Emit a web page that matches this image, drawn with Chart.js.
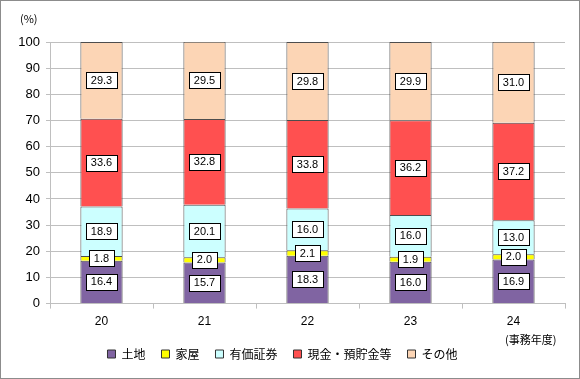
<!DOCTYPE html>
<html>
<head>
<meta charset="utf-8">
<script src="https://cdn.jsdelivr.net/npm/chart.js@4"></script>
<style>
  html, body { margin: 0; padding: 0; background: #fff; }
  #wrap { width: 580px; height: 379px; position: relative; }
</style>
</head>
<body>
<div id="wrap"><canvas id="chart" width="580" height="379"></canvas></div>
<script>
// 事務年度
var years = ['20', '21', '22', '23', '24'];
// 構成比 (%)
var tochi   = [16.4, 15.7, 18.3, 16.0, 16.9];
var kaoku   = [1.8, 2.0, 2.1, 1.9, 2.0];
var yuka    = [18.9, 20.1, 16.0, 16.0, 13.0];
var genkin  = [33.6, 32.8, 33.8, 36.2, 37.2];
var sonota  = [29.3, 29.5, 29.8, 29.9, 31.0];
var yTicks  = [0, 10, 20, 30, 40, 50, 60, 70, 80, 90, 100];

var jpFont = '"Noto Sans CJK JP", "DejaVu Sans", sans-serif';
var numFont = '"Liberation Sans", Arial, sans-serif';

// white boxed value labels
var boxLabels = {
    id: 'boxLabels',
    afterDatasetsDraw: function(chart) {
        var c = chart.ctx;
        c.save();
        c.font = '11px ' + numFont;
        c.textAlign = 'center';
        c.textBaseline = 'middle';
        chart.data.datasets.forEach(function(ds, i) {
            var meta = chart.getDatasetMeta(i);
            meta.data.forEach(function(bar, j) {
                var txt = ds.data[j].toFixed(1);
                var cy = (bar.y + bar.base) / 2;
                var w = Math.round(c.measureText(txt).width) + 10;
                var h = 16;
                var x0 = Math.round(bar.x - w / 2) + 0.5;
                var y0 = Math.round(cy - h / 2) + 0.5;
                c.fillStyle = '#fff';
                c.fillRect(x0, y0, w, h);
                c.strokeStyle = '#000';
                c.lineWidth = 1;
                c.strokeRect(x0, y0, w, h);
                c.fillStyle = '#000';
                c.fillText(txt, bar.x, cy + 0.5);
            });
        });
        c.restore();
    }
};

var frame = {
    id: 'frame',
    afterDraw: function(chart) {
        var c = chart.ctx;
        c.save();
        c.strokeStyle = '#8c8c8c';
        c.lineWidth = 1;
        c.strokeRect(0.5, 0.5, chart.width - 1, chart.height - 1);
        c.fillStyle = '#000';
        c.font = '11px ' + jpFont;
        c.textBaseline = 'middle';
        c.textAlign = 'left';
        c.fillText('(%)', 20, 19);
        c.fillText('(事務年度)', 505, 340);
        c.restore();
    }
};

var ctx = document.getElementById('chart').getContext('2d');
var chart = new Chart(ctx, {
    type: 'bar',
    data: {
        labels: years,
        datasets: [
            { label: '土地', data: tochi, backgroundColor: '#8064a2', borderColor: '#4d4d4d', borderWidth: 1 },
            { label: '家屋', data: kaoku, backgroundColor: '#ffff00', borderColor: '#4d4d4d', borderWidth: 1 },
            { label: '有価証券', data: yuka, backgroundColor: '#ccffff', borderColor: '#4d4d4d', borderWidth: 1 },
            { label: '現金・預貯金等', data: genkin, backgroundColor: '#ff5050', borderColor: '#4d4d4d', borderWidth: 1 },
            { label: 'その他', data: sonota, backgroundColor: '#fcd5b5', borderColor: '#4d4d4d', borderWidth: 1 }
        ]
    },
    options: {
        responsive: false,
        animation: false,
        layout: { padding: { top: 42, right: 15, left: 0, bottom: 9 } },
        datasets: { bar: { barPercentage: 0.41, categoryPercentage: 1.0 } },
        scales: {
            x: {
                stacked: true,
                afterFit: function(s) { s.height = s.height - 3; },
                grid: { display: true, drawOnChartArea: false, drawTicks: true, tickLength: 5, color: '#bfbfbf', offset: true },
                border: { color: '#bfbfbf' },
                ticks: { color: '#000', font: { size: 12, family: numFont }, padding: 6 }
            },
            y: {
                stacked: true,
                min: 0,
                max: 100,
                afterBuildTicks: function(s) { s.ticks = yTicks.map(function(v) { return { value: v }; }); },
                afterFit: function(s) { s.width = 50; },
                grid: { color: '#bfbfbf', tickLength: 4 },
                border: { color: '#bfbfbf' },
                ticks: { color: '#000', font: { size: 13, family: numFont }, padding: 6 }
            }
        },
        plugins: {
            legend: {
                position: 'bottom',
                labels: {
                    boxWidth: 8,
                    boxHeight: 8,
                    color: '#000',
                    padding: 16,
                    font: { size: 12, family: jpFont },
                    generateLabels: function(chart) {
                        return chart.data.datasets.map(function(ds, i) {
                            return { text: ds.label, fillStyle: ds.backgroundColor, strokeStyle: '#333', lineWidth: 1, datasetIndex: i };
                        });
                    }
                }
            },
            tooltip: { enabled: false }
        }
    },
    plugins: [boxLabels, frame]
});
</script>
</body>
</html>
